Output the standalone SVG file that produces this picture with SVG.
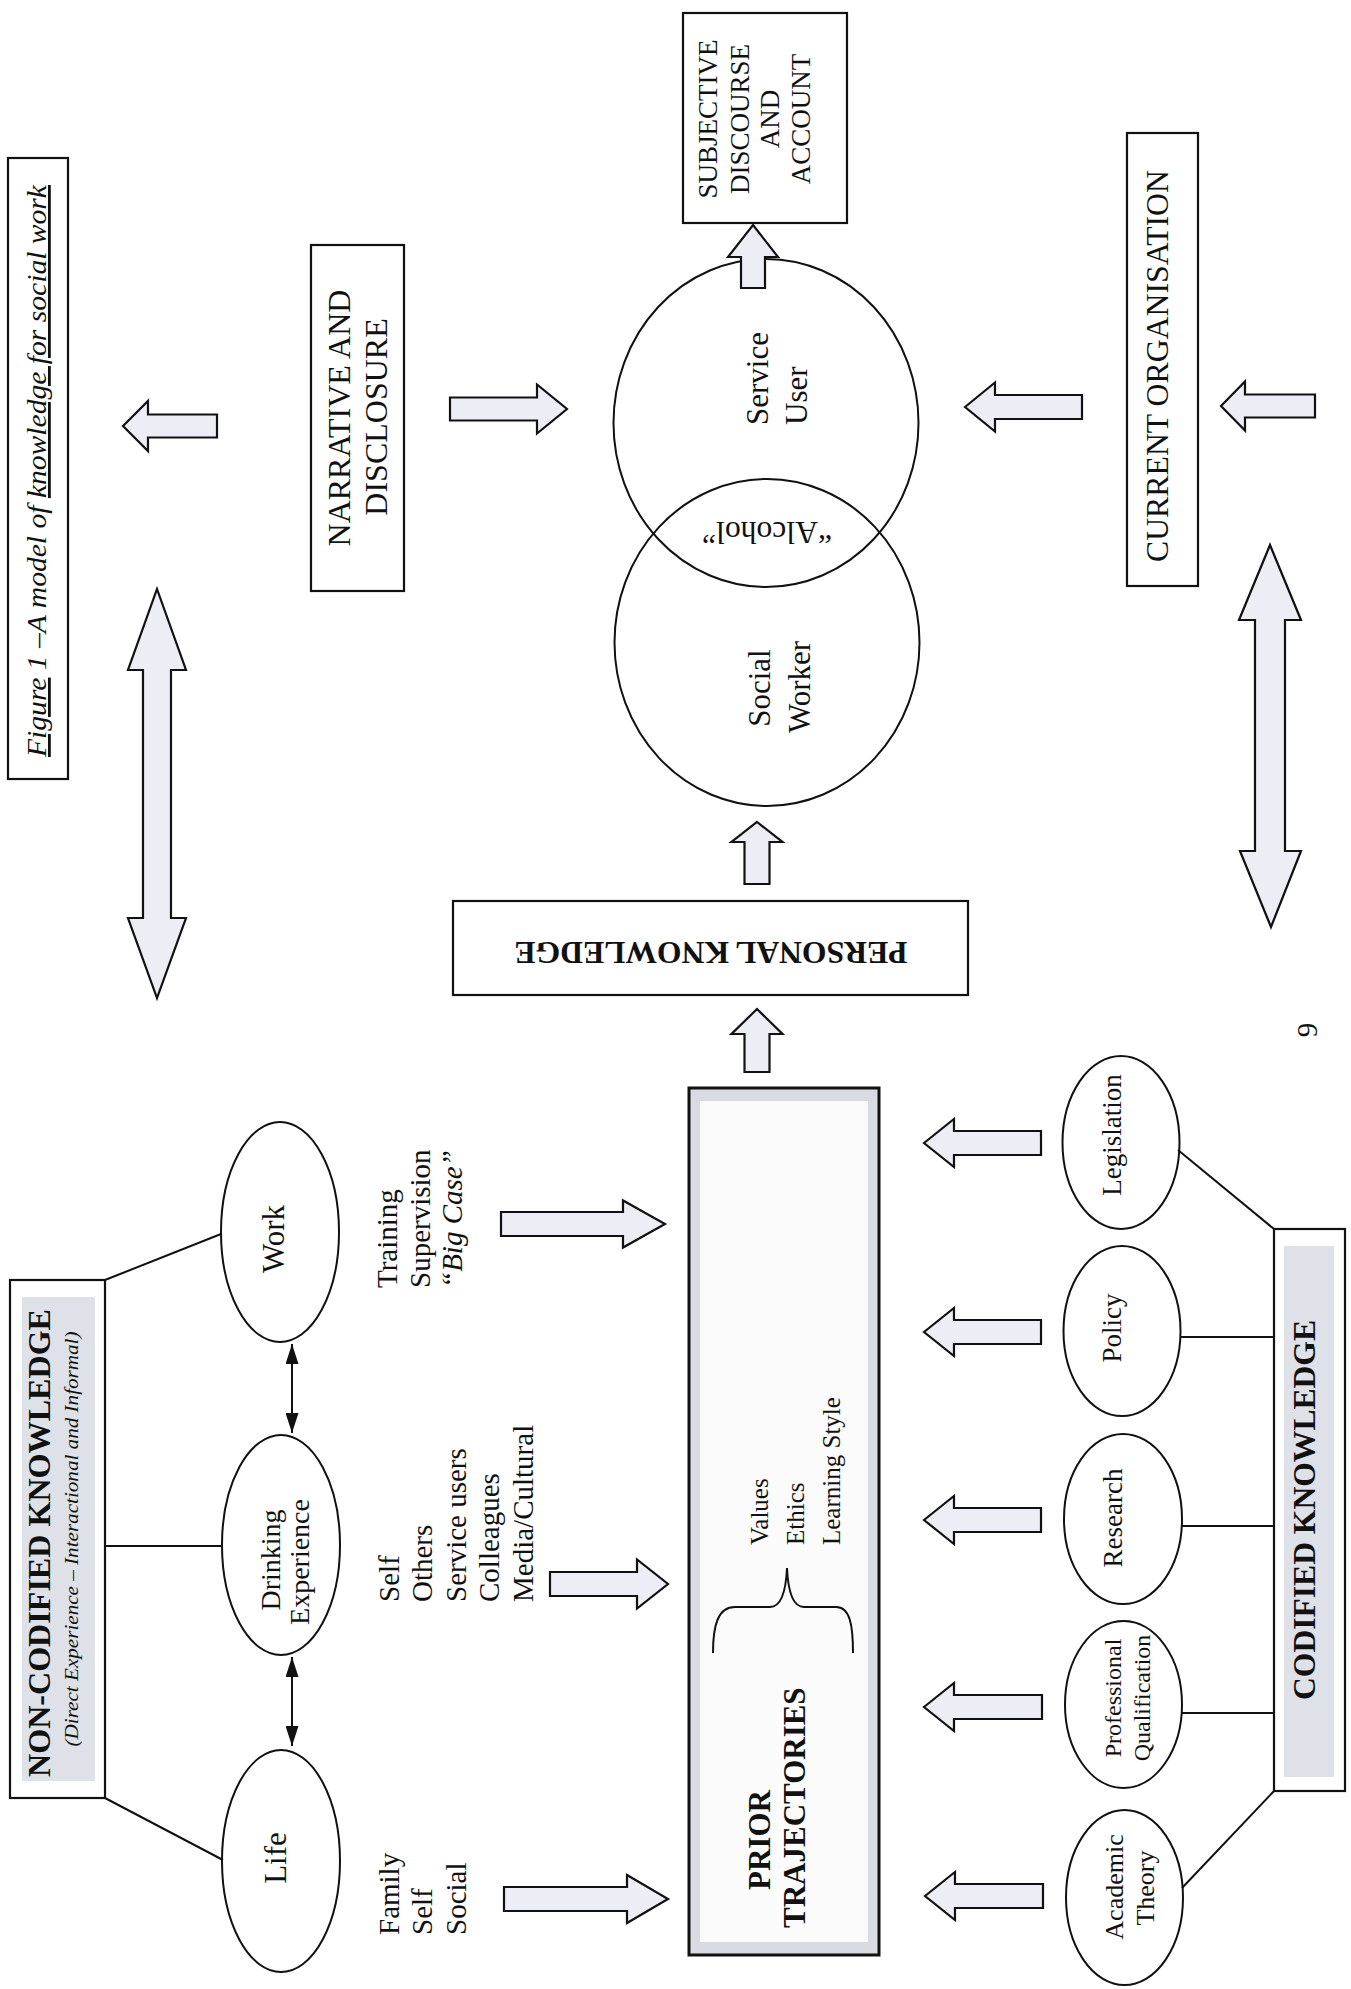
<svg xmlns="http://www.w3.org/2000/svg" width="1351" height="1989" viewBox="0 0 1351 1989">
<style>
.t{font-family:"Liberation Serif","Times New Roman",serif;fill:#111}
.b{font-weight:bold}
.i{font-style:italic}
.box{fill:#fff;stroke:#111;stroke-width:2.2}
.blk{fill:#ecedf5;stroke:#111;stroke-width:2.2;stroke-linejoin:miter}
.ln{fill:none;stroke:#111;stroke-width:2}
.ell{fill:#fff;stroke:#111;stroke-width:2}
.shade{fill:#dfe1e8}
</style>
<defs>
<marker id="ah" viewBox="0 0 20 13" markerWidth="20" markerHeight="13" refX="20" refY="6.5" markerUnits="userSpaceOnUse" orient="auto-start-reverse">
<path d="M0,0 L20,6.5 L0,13 z" fill="#111"/>
</marker>
</defs>
<rect width="1351" height="1989" fill="#fff"/>

<g id="title">
<rect class="box" x="8" y="158" width="60" height="621"/>
<text class="t i" font-size="28" text-anchor="middle" transform="translate(46,471) rotate(-90)" textLength="572" lengthAdjust="spacingAndGlyphs"><tspan text-decoration="underline">Figure</tspan> 1 –A model of <tspan text-decoration="underline">knowledge for social work</tspan></text>
</g>

<g id="narrative">
<rect class="box" x="311" y="245" width="93" height="346"/>
<text class="t" font-size="32" text-anchor="middle" transform="translate(350,418) rotate(-90)">NARRATIVE AND</text>
<text class="t" font-size="32" text-anchor="middle" transform="translate(387,417) rotate(-90)">DISCLOSURE</text>
</g>

<g id="subjective">
<rect class="box" x="683" y="13" width="164" height="210"/>
<text class="t" font-size="27" text-anchor="middle" transform="translate(717,119) rotate(-90)">SUBJECTIVE</text>
<text class="t" font-size="27" text-anchor="middle" transform="translate(749,119) rotate(-90)">DISCOURSE</text>
<text class="t" font-size="27" text-anchor="middle" transform="translate(779,119) rotate(-90)">AND</text>
<text class="t" font-size="27" text-anchor="middle" transform="translate(810,119) rotate(-90)">ACCOUNT</text>
</g>

<g id="service-user">
<ellipse cx="766" cy="423" rx="152.5" ry="164" fill="none" stroke="#111" stroke-width="2"/>
<text class="t" font-size="31" transform="translate(768,425) rotate(-90)">Service</text>
<text class="t" font-size="31" transform="translate(807,425) rotate(-90)">User</text>
</g>

<g id="social-worker">
<ellipse cx="767" cy="642.5" rx="152.5" ry="163.5" fill="none" stroke="#111" stroke-width="2"/>
<text class="t" font-size="31" text-anchor="middle" transform="translate(770,688) rotate(-90)">Social</text>
<text class="t" font-size="31" text-anchor="middle" transform="translate(810,687) rotate(-90)">Worker</text>
</g>

<g id="alcohol">
<text class="t" font-size="32" text-anchor="middle" transform="translate(767,522) rotate(180)" textLength="130" lengthAdjust="spacingAndGlyphs">“Alcohol”</text>
</g>

<g id="current-organisation">
<rect class="box" x="1127" y="133" width="71" height="453"/>
<text class="t" font-size="31" text-anchor="middle" transform="translate(1168,366) rotate(-90)" textLength="392" lengthAdjust="spacingAndGlyphs">CURRENT ORGANISATION</text>
</g>

<g id="personal-knowledge">
<rect class="box" x="453" y="901" width="515" height="94"/>
<text class="t b" font-size="32" text-anchor="middle" transform="translate(711,942) rotate(180)" textLength="393" lengthAdjust="spacingAndGlyphs">PERSONAL KNOWLEDGE</text>
</g>

<g id="prior-trajectories">
<rect x="689" y="1088" width="190" height="867" fill="#d9dbe3" stroke="#111" stroke-width="3"/>
<rect x="700" y="1101" width="168" height="841" fill="#fbfbfc"/>
<text class="t b" font-size="31" transform="translate(770,1890) rotate(-90)">PRIOR</text>
<text class="t b" font-size="31" transform="translate(805,1928) rotate(-90)">TRAJECTORIES</text>
<path class="ln" d="M713,1653 C713,1625 718,1607 735,1607 L770,1607 C782,1607 786,1590 787,1568 C788,1590 792,1607 804,1607 L836,1607 C850,1607 853,1625 853,1653"/>
<text class="t" font-size="25" transform="translate(768,1545) rotate(-90)">Values</text>
<text class="t" font-size="25" transform="translate(804,1545) rotate(-90)">Ethics</text>
<text class="t" font-size="25" transform="translate(840,1545) rotate(-90)">Learning Style</text>
</g>

<g id="work-sources">
<text class="t" font-size="29" transform="translate(397,1288) rotate(-90)">Training</text>
<text class="t" font-size="29" transform="translate(430,1288) rotate(-90)">Supervision</text>
<text class="t i" font-size="29" transform="translate(462,1288) rotate(-90)">“Big Case”</text>
</g>

<g id="drinking-sources">
<text class="t" font-size="29" transform="translate(399,1602) rotate(-90)">Self</text>
<text class="t" font-size="29" transform="translate(432,1602) rotate(-90)">Others</text>
<text class="t" font-size="29" transform="translate(466,1602) rotate(-90)">Service users</text>
<text class="t" font-size="29" transform="translate(499,1602) rotate(-90)">Colleagues</text>
<text class="t" font-size="29" transform="translate(533,1602) rotate(-90)">Media/Cultural</text>
</g>

<g id="life-sources">
<text class="t" font-size="29" transform="translate(399,1935) rotate(-90)">Family</text>
<text class="t" font-size="29" transform="translate(432,1935) rotate(-90)">Self</text>
<text class="t" font-size="29" transform="translate(466,1935) rotate(-90)">Social</text>
</g>

<g id="non-codified">
<rect class="box" x="10" y="1280" width="95" height="518"/>
<rect class="shade" x="22" y="1297" width="73" height="484"/>
<text class="t b" font-size="31" text-anchor="middle" transform="translate(50,1543) rotate(-90)" textLength="468" lengthAdjust="spacingAndGlyphs">NON-CODIFIED KNOWLEDGE</text>
<text class="t i" font-size="19" text-anchor="middle" transform="translate(78,1539) rotate(-90)" textLength="415" lengthAdjust="spacingAndGlyphs">(Direct Experience – Interactional and Informal)</text>
</g>

<g id="work">
<ellipse class="ell" cx="280" cy="1232" rx="59" ry="110"/>
<text class="t" font-size="31" text-anchor="middle" transform="translate(284,1239) rotate(-90)">Work</text>
</g>
<g id="drinking-experience">
<ellipse class="ell" cx="281" cy="1545" rx="59" ry="110"/>
<text class="t" font-size="28" text-anchor="middle" transform="translate(280,1560) rotate(-90)">Drinking</text>
<text class="t" font-size="28" text-anchor="middle" transform="translate(309,1562) rotate(-90)">Experience</text>
</g>
<g id="life">
<ellipse class="ell" cx="281" cy="1861" rx="59" ry="111"/>
<text class="t" font-size="31" text-anchor="middle" transform="translate(286,1858) rotate(-90)">Life</text>
</g>

<g id="codified">
<rect class="box" x="1274" y="1229" width="71" height="562"/>
<rect class="shade" x="1284" y="1246" width="50" height="531"/>
<text class="t b" font-size="31" text-anchor="middle" transform="translate(1315,1510) rotate(-90)" textLength="380" lengthAdjust="spacingAndGlyphs">CODIFIED KNOWLEDGE</text>
</g>

<g id="legislation">
<ellipse class="ell" cx="1121" cy="1142.5" rx="58.5" ry="86.5"/>
<text class="t" font-size="27" text-anchor="middle" transform="translate(1121,1135) rotate(-90)">Legislation</text>
</g>
<g id="policy">
<ellipse class="ell" cx="1122" cy="1331" rx="58.5" ry="85"/>
<text class="t" font-size="27" text-anchor="middle" transform="translate(1121,1328) rotate(-90)">Policy</text>
</g>
<g id="research">
<ellipse class="ell" cx="1123" cy="1519" rx="59" ry="85"/>
<text class="t" font-size="27" text-anchor="middle" transform="translate(1122,1518) rotate(-90)">Research</text>
</g>
<g id="professional-qualification">
<ellipse class="ell" cx="1123.5" cy="1704.5" rx="58.5" ry="83.5"/>
<text class="t" font-size="24" text-anchor="middle" transform="translate(1121,1698) rotate(-90)">Professional</text>
<text class="t" font-size="24" text-anchor="middle" transform="translate(1150,1698) rotate(-90)">Qualification</text>
</g>
<g id="academic-theory">
<ellipse class="ell" cx="1124.5" cy="1897.5" rx="58.5" ry="87.5"/>
<text class="t" font-size="26" text-anchor="middle" transform="translate(1123,1887) rotate(-90)">Academic</text>
<text class="t" font-size="26" text-anchor="middle" transform="translate(1154,1888) rotate(-90)">Theory</text>
</g>

<g id="page-number">
<text class="t" font-size="29" text-anchor="middle" transform="translate(1317,1030) rotate(-90)">9</text>
</g>

<g id="connectors">
<polygon class="blk" points="123,426 148,401 148,414.5 217,414.5 217,437.5 148,437.5 148,451"/>
<polygon class="blk" points="157,589 186,670 171,670 171,918 186,918 157,998 128,918 143,918 143,670 128,670"/>
<polygon class="blk" points="450,397.5 537,397.5 537,384.5 567,409 537,433.5 537,420.5 450,420.5"/>
<polygon class="blk" points="753,225 778,257 765,257 765,288 741,288 741,257 728,257"/>
<polygon class="blk" points="965,407 995,382.5 995,395 1082,395 1082,419 995,419 995,431.5"/>
<polygon class="blk" points="1221,406 1245,381.5 1245,394.5 1315,394.5 1315,417.5 1245,417.5 1245,430.5"/>
<polygon class="blk" points="1270,545 1301,620 1285,620 1285,851 1301,851 1271,927 1240,851 1255,851 1255,620 1239,620"/>
<polygon class="blk" points="757,822 782.5,842 769.5,842 769.5,884 744.5,884 744.5,842 731.5,842"/>
<polygon class="blk" points="757,1009 782.5,1034 769.5,1034 769.5,1072 744.5,1072 744.5,1034 731.5,1034"/>
<polygon class="blk" points="501,1212 623,1212 623,1200.5 665,1224 623,1247.5 623,1236 501,1236"/>
<polygon class="blk" points="550,1572 637,1572 637,1559.5 668,1584 637,1608.5 637,1596 550,1596"/>
<polygon class="blk" points="504,1887 627,1887 627,1875 668,1899 627,1923 627,1911 504,1911"/>
<polygon class="blk" points="924,1143 954,1119 954,1131 1041,1131 1041,1155 954,1155 954,1167"/>
<polygon class="blk" points="924,1332 954,1308 954,1320 1041,1320 1041,1344 954,1344 954,1356"/>
<polygon class="blk" points="924,1520 954,1496 954,1508 1041,1508 1041,1532 954,1532 954,1544"/>
<polygon class="blk" points="924,1707 954,1683 954,1695 1042,1695 1042,1719 954,1719 954,1731"/>
<polygon class="blk" points="925,1896 955,1872 955,1884 1043,1884 1043,1908 955,1908 955,1920"/>
<line class="ln" x1="292" y1="1344" x2="292" y2="1433" marker-start="url(#ah)" marker-end="url(#ah)"/>
<line class="ln" x1="292" y1="1657" x2="292" y2="1746" marker-start="url(#ah)" marker-end="url(#ah)"/>
<line class="ln" x1="105" y1="1280" x2="221" y2="1234"/>
<line class="ln" x1="105" y1="1546" x2="222" y2="1546"/>
<line class="ln" x1="105" y1="1798" x2="223" y2="1860"/>
<line class="ln" x1="1178" y1="1150" x2="1274" y2="1229"/>
<line class="ln" x1="1180" y1="1337" x2="1274" y2="1337"/>
<line class="ln" x1="1182" y1="1526" x2="1274" y2="1526"/>
<line class="ln" x1="1182" y1="1713" x2="1274" y2="1713"/>
<line class="ln" x1="1182" y1="1888" x2="1274" y2="1791"/>
</g>
</svg>
